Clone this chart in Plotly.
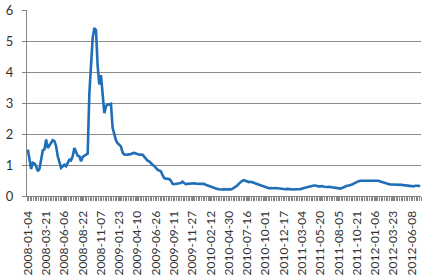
import plotly.graph_objects as go
import pandas as pd

start_date = "2008-01-04"
n_weeks = 237
week_labels = [d.strftime("%Y-%m-%d") for d in pd.date_range(start_date, periods=n_weeks, freq="7D")]

tick_labels = ["2008-01-04", "2008-03-21", "2008-06-06", "2008-08-22", "2008-11-07",
               "2009-01-23", "2009-04-10", "2009-06-26", "2009-09-11", "2009-11-27",
               "2010-02-12", "2010-04-30", "2010-07-16", "2010-10-01", "2010-12-17",
               "2011-03-04", "2011-05-20", "2011-08-05", "2011-10-21", "2012-01-06",
               "2012-03-23", "2012-06-08"]

values = [
    1.50, 1.23, 0.87, 1.07, 1.05, 0.96, 0.80, 0.87, 1.17, 1.47,
    1.50, 1.82, 1.55, 1.62, 1.71, 1.80, 1.77, 1.61, 1.28, 1.07,
    0.91, 0.96, 1.01, 0.96, 1.09, 1.17, 1.15, 1.28, 1.55, 1.39,
    1.30, 1.28, 1.12, 1.26, 1.30, 1.33, 1.37, 3.30, 4.40, 5.10,
    5.42, 5.35, 4.20, 3.60, 3.90, 3.30, 2.67, 2.90, 2.95, 2.95,
    2.97, 2.20, 1.98, 1.80, 1.70, 1.65, 1.60, 1.40, 1.34, 1.33,
    1.33, 1.33, 1.35, 1.38, 1.39, 1.37, 1.34, 1.33, 1.34, 1.33,
    1.27, 1.20, 1.14, 1.12, 1.05, 1.01, 0.97, 0.90, 0.85, 0.82,
    0.80, 0.68, 0.58, 0.56, 0.55, 0.55, 0.50, 0.40, 0.38, 0.39,
    0.40, 0.40, 0.42, 0.46, 0.42, 0.38, 0.39, 0.40, 0.41, 0.42,
    0.41, 0.40, 0.40, 0.38, 0.39, 0.40, 0.39, 0.36, 0.34, 0.32,
    0.29, 0.27, 0.26, 0.24, 0.23, 0.22, 0.21, 0.21, 0.22, 0.21,
    0.21, 0.22, 0.21, 0.23, 0.26, 0.29, 0.34, 0.40, 0.45, 0.49,
    0.51, 0.49, 0.46, 0.45, 0.46, 0.45, 0.43, 0.40, 0.38, 0.36,
    0.33, 0.31, 0.29, 0.27, 0.26, 0.25, 0.26, 0.25, 0.25, 0.26,
    0.25, 0.24, 0.23, 0.22, 0.22, 0.22, 0.23, 0.22, 0.23, 0.22,
    0.21, 0.22, 0.22, 0.21, 0.22, 0.24, 0.26, 0.27, 0.29, 0.30,
    0.31, 0.33, 0.34, 0.34, 0.32, 0.31, 0.31, 0.32, 0.30, 0.29,
    0.29, 0.30, 0.29, 0.28, 0.29, 0.27, 0.25, 0.24, 0.24, 0.26,
    0.29, 0.31, 0.33, 0.34, 0.35, 0.37, 0.40, 0.43, 0.46, 0.48,
    0.49, 0.49, 0.50, 0.49, 0.50, 0.50, 0.49, 0.50, 0.50, 0.50,
    0.50, 0.49, 0.47, 0.46, 0.45, 0.42, 0.40, 0.38, 0.37, 0.37,
    0.37, 0.38, 0.37, 0.37, 0.37, 0.36, 0.35, 0.34, 0.34, 0.33,
    0.33, 0.32, 0.31, 0.33, 0.34, 0.33, 0.31,
]
assert len(values) == n_weeks

x_idx = list(range(n_weeks))
tick_idx = [week_labels.index(t) for t in tick_labels]

fig = go.Figure()
fig.add_trace(go.Scatter(
    x=x_idx, y=values, mode="lines",
    line=dict(color="#1F6EB7", width=2.6),
    hoverinfo="skip",
))

font = dict(family="Lato, 'Open Sans', sans-serif", size=12, color="#333333")
yfont = dict(family="Lato, 'Open Sans', sans-serif", size=13, color="#333333")

fig.update_layout(
    width=433, height=280,
    margin=dict(l=27, r=12, t=10, b=84),
    paper_bgcolor="white", plot_bgcolor="white",
    showlegend=False,
    font=font,
)
fig.update_xaxes(
    automargin=False,
    range=[-0.5, n_weeks - 0.5],
    tickmode="array", tickvals=tick_idx, ticktext=tick_labels,
    tickangle=-90, tickfont=font,
    ticks="outside", ticklen=4, tickcolor="#868686",
    showgrid=False, zeroline=False,
    showline=True, linecolor="#868686", linewidth=1,
    minor=dict(ticks="outside", ticklen=4, tickcolor="#868686",
               tick0=-0.5, dtick=1, showgrid=False),
    ticklabelstandoff=5,
)
fig.update_yaxes(
    automargin=False,
    range=[0, 6], dtick=1, tick0=0,
    tickfont=yfont,
    ticks="outside", ticklen=4, tickcolor="#868686",
    showgrid=True, gridcolor="#8C8C8C", gridwidth=1,
    zeroline=False,
    showline=True, linecolor="#868686", linewidth=1,
    ticklabelstandoff=6,
)

fig.write_html("out.html")
